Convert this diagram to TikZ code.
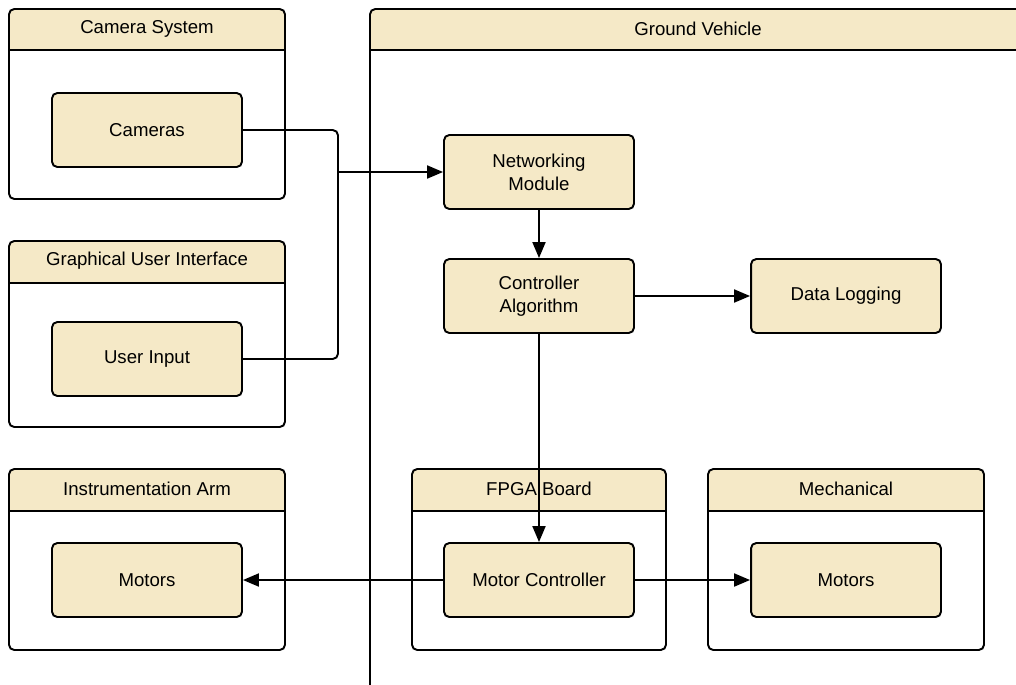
\documentclass[tikz,border=0pt]{standalone}
\usepackage{fontspec}
\setmainfont{Liberation Sans}
\usetikzlibrary{arrows.meta}

\definecolor{boxfill}{RGB}{245,233,199}

\tikzset{
  block/.style={draw, line width=1.1pt, rounded corners=3pt, fill=boxfill,
    minimum width=3.8cm, minimum height=1.48cm, align=center,
    font=\fontsize{10.6}{13}\selectfont},
  title/.style={font=\fontsize{10.6}{13}\selectfont},
  wire/.style={line width=1.1pt, rounded corners=3pt},
  conn/.style={wire, -{Triangle[length=3.2mm,width=2.6mm]}}
}

% container: x1, y1, x2, y2, header bottom, name, title
\newcommand{\pkgbox}[7]{%
  \fill[white, rounded corners=3pt] (#1,#2) rectangle (#3,#4);
  \begin{scope}
    \clip (#1,#2) rectangle (#3,#5);
    \fill[boxfill, rounded corners=3pt] (#1,#2) rectangle (#3,#4);
  \end{scope}
  \draw[line width=1.1pt, rounded corners=3pt] (#1,#2) rectangle (#3,#4);
  \draw[line width=1.1pt] (#1,#5) -- (#3,#5);
  \node[title] (#6) at ({(#1+#3)/2},{(#2+#5)/2-1}) {#7};
}

\begin{document}
\begin{tikzpicture}[x=0.02cm, y=-0.02cm]
  \path[use as bounding box] (0,0) rectangle (1016,684);
  \clip (0,0) rectangle (1016,684);

  % Containers
  \pkgbox{370}{9}{1026}{700}{50}{ground}{Ground Vehicle}
  \pkgbox{9}{9}{285}{199}{50}{camsys}{Camera System}
  \pkgbox{9}{241}{285}{427}{283}{gui}{Graphical User Interface}
  \pkgbox{9}{469}{285}{650}{511}{arm}{Instrumentation Arm}
  \pkgbox{412}{469}{666}{650}{511}{fpga}{FPGA Board}
  \pkgbox{708}{469}{984}{650}{511}{mech}{Mechanical}

  % Blocks
  \node[block] (cameras) at (147,130) {Cameras};
  \node[block] (input) at (147,359) {User Input};
  \node[block] (armmotors) at (147,580) {Motors};
  \node[block] (network) at (539,172) {Networking\\Module};
  \node[block] (control) at (539,296) {Controller\\Algorithm};
  \node[block] (logging) at (846,296) {Data Logging};
  \node[block] (motorctl) at (539,580) {Motor Controller};
  \node[block] (mechmotors) at (846,580) {Motors};

  % Connections
  \coordinate (join) at (338,172);
  \draw[wire] (cameras.east) -| (join);
  \draw[wire] (input.east) -| (join);
  \draw[conn] (join) -- (network.west);
  \draw[conn] (network) -- (control);
  \draw[conn] (control) -- (logging);
  \draw[conn] (control) -- (motorctl);
  \draw[conn] (motorctl) -- (armmotors);
  \draw[conn] (motorctl) -- (mechmotors);
\end{tikzpicture}
\end{document}
